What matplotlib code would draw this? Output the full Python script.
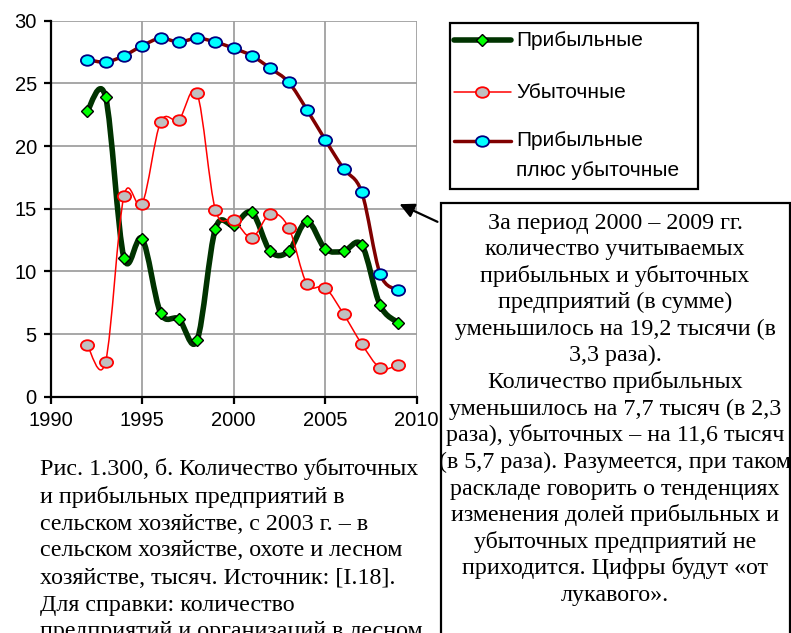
import numpy as np
import matplotlib.pyplot as plt
from matplotlib.path import Path
from matplotlib.patches import PathPatch, Rectangle, FancyArrowPatch
from matplotlib.lines import Line2D
from matplotlib.transforms import Affine2D

years = list(range(1992, 2010))
profitable = [22.8, 23.9, 11.1, 12.6, 6.7, 6.2, 4.5, 13.4, 13.7, 14.7,
              11.6, 11.6, 14.0, 11.8, 11.6, 12.1, 7.3, 5.9]
loss = [4.1, 2.8, 16.0, 15.4, 21.9, 22.1, 24.2, 14.9, 14.1, 12.7,
        14.6, 13.5, 9.0, 8.7, 6.6, 4.2, 2.3, 2.5]
total = [26.9, 26.7, 27.2, 28.0, 28.6, 28.3, 28.6, 28.3, 27.8, 27.2,
         26.2, 25.1, 22.9, 20.5, 18.2, 16.3, 9.8, 8.5]

labels = ["Прибыльные", "Убыточные", "Прибыльные\nплюс убыточные"]

note_lines = [
    "За период 2000 – 2009 гг.",
    "количество учитываемых",
    "прибыльных и убыточных",
    "предприятий (в сумме)",
    "уменьшилось на 19,2 тысячи (в",
    "3,3 раза).",
    "Количество прибыльных",
    "уменьшилось на 7,7 тысяч (в 2,3",
    "раза), убыточных – на 11,6 тысяч",
    "(в 5,7 раза). Разумеется, при таком",
    "раскладе говорить о тенденциях",
    "изменения долей прибыльных и",
    "убыточных предприятий не",
    "приходится. Цифры будут «от",
    "лукавого».",
]

caption_lines = [
    "Рис. 1.300, б. Количество убыточных",
    "и прибыльных предприятий в",
    "сельском хозяйстве, с 2003 г. – в",
    "сельском хозяйстве, охоте и лесном",
    "хозяйстве, тысяч. Источник: [I.18].",
    "Для справки: количество",
    "предприятий и организаций в лесном",
]

W, H = 791, 633


def fx(px):
    return px / W


def fy(py):
    return 1 - py / H


# smoothed line like excel (catmull-rom -> bezier)
def smooth_path(x, y):
    pts = np.column_stack([x, y]).astype(float)
    n = len(pts)
    verts = [pts[0]]
    codes = [Path.MOVETO]
    for i in range(n - 1):
        p0 = pts[i - 1] if i > 0 else pts[i]
        p1 = pts[i]
        p2 = pts[i + 1]
        p3 = pts[i + 2] if i + 2 < n else pts[i + 1]
        verts += [p1 + (p2 - p0) / 6, p2 - (p3 - p1) / 6, p2]
        codes += [Path.CURVE4] * 3
    return Path(verts, codes)


ellipse = Path.unit_circle().transformed(Affine2D().scale(1.25, 1.0))

styles = [
    dict(color="#003300", lw=4.0, marker="D", ms=6.0, mfc="#00ff00", mec="black", mew=1.0),
    dict(color="#ff0000", lw=1.1, marker=ellipse, ms=9.5, mfc="#c0c0c0", mec="#ff0000", mew=1.3),
    dict(color="#800000", lw=2.5, marker=ellipse, ms=9.5, mfc="#00ffff", mec="#000080", mew=1.3),
]

fig = plt.figure(figsize=(W / 100, H / 100), dpi=100)
ax = fig.add_axes([fx(50.7), fy(396.7), (416.7 - 50.7) / W, (396.7 - 20.7) / H])

for k, series in enumerate([profitable, loss, total]):
    st = styles[k]
    patch = PathPatch(smooth_path(years, series), fill=False, edgecolor=st["color"],
                      lw=st["lw"], capstyle="round", joinstyle="round", zorder=3 + k)
    ax.add_patch(patch)
    ax.plot(years, series, ls="none", marker=st["marker"], ms=st["ms"],
            mfc=st["mfc"], mec=st["mec"], mew=st["mew"], zorder=3.5 + k, clip_on=False)

ax.set_xlim(1990, 2010)
ax.set_ylim(0, 30)
ax.set_xticks(range(1990, 2011, 5))
ax.set_yticks(range(0, 31, 5))
ax.grid(True, color="#a0a0a0", lw=1.3)
ax.set_axisbelow(True)
for s in ["top", "right"]:
    ax.spines[s].set_visible(False)
for s in ["left", "bottom"]:
    ax.spines[s].set_linewidth(1.6)
ax.tick_params(direction="out", length=5, width=1.6, labelsize=14.5, pad=5)
for t in ax.get_xticklabels() + ax.get_yticklabels():
    t.set_fontfamily("Liberation Sans")

# legend box
fig.add_artist(Rectangle((fx(450), fy(189)), (698 - 450) / W, (189 - 22.7) / H,
                         transform=fig.transFigure, fill=False, ec="black", lw=1.6))
leg_y = [40, 92, 141]
for k in range(3):
    st = styles[k]
    fig.add_artist(Line2D([fx(454), fx(511)], [fy(leg_y[k])] * 2, color=st["color"],
                          lw=st["lw"], solid_capstyle="round", transform=fig.transFigure))
    fig.add_artist(Line2D([fx(482)], [fy(leg_y[k])], ls="none", marker=st["marker"],
                          ms=st["ms"], mfc=st["mfc"], mec=st["mec"], mew=st["mew"],
                          transform=fig.transFigure))
    parts = labels[k].split("\n")
    for j, p in enumerate(parts):
        fig.text(fx(516), fy(leg_y[k] + 30 * j), p, fontsize=15, family="Liberation Sans",
                 va="center", ha="left")

# note box with arrow
fig.add_artist(Rectangle((fx(440.5), -0.1), (790 - 440.5) / W, fy(203) + 0.1,
                         transform=fig.transFigure, fc="white", ec="black", lw=1.6, zorder=5))
fig.add_artist(FancyArrowPatch((fx(440), fy(223)), (fx(397), fy(203)),
                               transform=fig.transFigure, arrowstyle="-|>",
                               mutation_scale=22, color="black", lw=1.6, zorder=6))
for i, line in enumerate(note_lines):
    fig.text(fx(615), fy(228.5 + 26.6 * i), line, fontsize=17.3, family="Liberation Serif",
             ha="center", va="baseline", zorder=7)

for i, line in enumerate(caption_lines):
    fig.text(fx(40), fy(475.5 + 27.0 * i), line, fontsize=17.3, family="Liberation Serif",
             ha="left", va="baseline")

fig.savefig("out.png", dpi=100)
